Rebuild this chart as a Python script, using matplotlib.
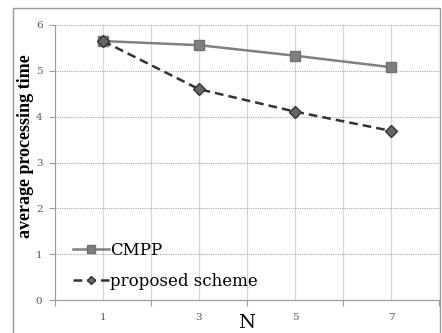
import matplotlib
matplotlib.use("Agg")
import matplotlib.pyplot as plt
from matplotlib.patches import Rectangle

n_values = [1, 3, 5, 7]
cmpp = [5.65, 5.56, 5.33, 5.08]
proposed = [5.65, 4.60, 4.11, 3.69]
y_ticks = [0, 1, 2, 3, 4, 5, 6]

serif = ["DejaVu Serif"]

fig = plt.figure(figsize=(4.42, 3.33), dpi=100)
W, H = 442, 333

# outer chart border
fig.patches.append(Rectangle((13 / W, -0.05), (440 - 13) / W, 1.05 - 8 / H,
                             transform=fig.transFigure, fill=False,
                             edgecolor="#9a9a9a", linewidth=1.0))

ax = fig.add_axes([55 / W, 1 - 300 / H, (439 - 55) / W, (300 - 25) / H])

ax.plot(n_values, cmpp, color="#808080", linewidth=1.8, marker="s",
        markersize=7, markerfacecolor="#7f7f7f", markeredgecolor="#707070",
        label="CMPP", zorder=3)
ax.plot(n_values, proposed, color="#333333", linewidth=1.8, linestyle=(0, (3.5, 2)),
        marker="D", markersize=6, markerfacecolor="#666666",
        markeredgecolor="#333333", label="proposed scheme", zorder=4)

ax.set_xlim(0, 8)
ax.set_ylim(0, 6)
ax.set_yticks(y_ticks)
ax.set_xticks([0, 2, 4, 6, 8])
ax.set_xticklabels([])
ax.set_xticks(n_values, minor=True)
ax.set_xticklabels([str(v) for v in n_values], minor=True)

for lbl in ax.get_yticklabels() + ax.get_xticklabels(minor=True):
    lbl.set_family(serif)
    lbl.set_fontsize(7.5)
    lbl.set_color("#595959")

ax.tick_params(axis="x", which="major", length=4, color="#9a9a9a", direction="out")
ax.tick_params(axis="x", which="minor", length=0, pad=9)
ax.tick_params(axis="y", length=4, color="#9a9a9a", pad=5)

# gridlines
for x in range(0, 9):
    ax.axvline(x, color="#d4d4d4", linewidth=0.9, zorder=0)
for y in y_ticks[1:]:
    ax.axhline(y, color="#a8a8a8", linewidth=0.8, linestyle=(0, (1, 1)), zorder=0)

for side in ["top", "right"]:
    ax.spines[side].set_visible(False)
ax.spines["left"].set_color("#9a9a9a")
ax.spines["bottom"].set_color("#9a9a9a")

ax.set_ylabel("average processing time", family=["Liberation Serif"], fontsize=13,
              fontweight="bold")
ax.yaxis.set_label_coords(-0.054, 1 - (146 - 25) / 275)
ax.set_xlabel("N", family=serif, fontsize=14)
ax.xaxis.set_label_coords(0.5, -0.05)

ax.legend(loc="lower left", bbox_to_anchor=(0.02, 0.0), frameon=False,
          prop={"family": serif, "size": 12}, handlelength=2.2,
          handletextpad=0.05, labelspacing=0.85, borderaxespad=0.2,
          markerscale=0.75)

fig.savefig("out.png", dpi=100)
